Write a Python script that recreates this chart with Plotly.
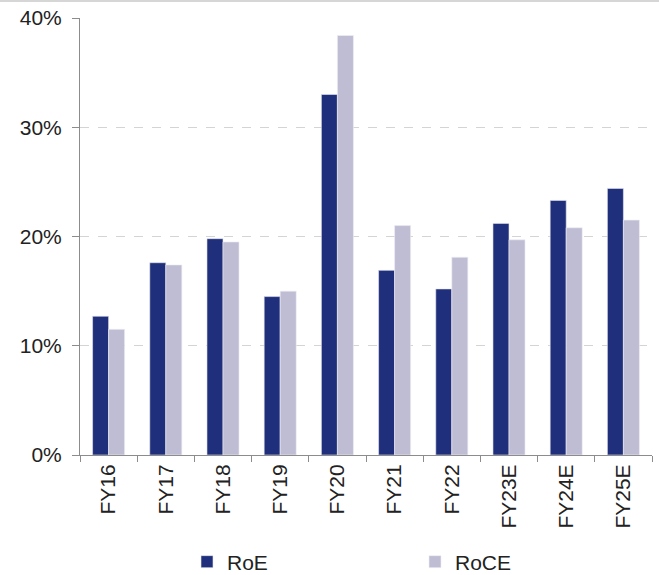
import plotly.graph_objects as go

categories = ["FY16", "FY17", "FY18", "FY19", "FY20", "FY21", "FY22", "FY23E", "FY24E", "FY25E"]
roe = [12.7, 17.6, 19.8, 14.5, 33.0, 16.9, 15.2, 21.2, 23.3, 24.4]
roce = [11.5, 17.4, 19.5, 15.0, 38.4, 21.0, 18.1, 19.7, 20.8, 21.5]
y_ticks = [0, 10, 20, 30, 40]
y_tick_labels = ["0%", "10%", "20%", "30%", "40%"]

font = "Liberation Sans, Arial, sans-serif"

fig = go.Figure()
fig.add_trace(go.Bar(name="RoE", x=categories, y=roe, marker=dict(color="#1F2F7B", line=dict(color="#E8E8F0", width=0.6))))
fig.add_trace(go.Bar(name="RoCE", x=categories, y=roce, marker=dict(color="#BFBDD4", line=dict(color="#EEEEF4", width=0.6))))

fig.update_layout(
    width=659, height=575,
    margin=dict(l=80, r=7, t=18, b=120, autoexpand=False),
    barmode="group", bargap=0.44, bargroupgap=0,
    plot_bgcolor="white", paper_bgcolor="white",
    font=dict(family=font, size=21, color="#222222"),
    showlegend=True,
    legend=dict(orientation="h", xref="container", yref="container",
                x=187 / 659, xanchor="left", y=1 - 562 / 575, yanchor="middle",
                font=dict(size=21, color="#222222"), entrywidth=183,
                traceorder="normal"),
)
fig.update_xaxes(
    type="category", tickangle=-90, showline=True, linecolor="#8C8C8C", linewidth=1,
    ticks="outside", ticklen=6, tickcolor="#8C8C8C", tickson="boundaries",
    showgrid=False, tickfont=dict(size=21, color="#222222"),
)
fig.update_yaxes(
    range=[0, 40], tickvals=y_ticks, ticktext=y_tick_labels,
    showline=True, linecolor="#8C8C8C", linewidth=1,
    ticks="outside", ticklen=7, tickcolor="#8C8C8C", ticklabelstandoff=6,
    showgrid=True, gridcolor="#D4D4D4", griddash="dash", gridwidth=1,
    zeroline=False, tickfont=dict(size=21, color="#222222"),
)
fig.add_shape(type="line", xref="paper", yref="paper", x0=-0.15, x1=1.02,
              y0=1 + 17 / 437, y1=1 + 17 / 437,
              line=dict(color="#C8C8C8", width=1.5))

fig.write_html("out.html")
